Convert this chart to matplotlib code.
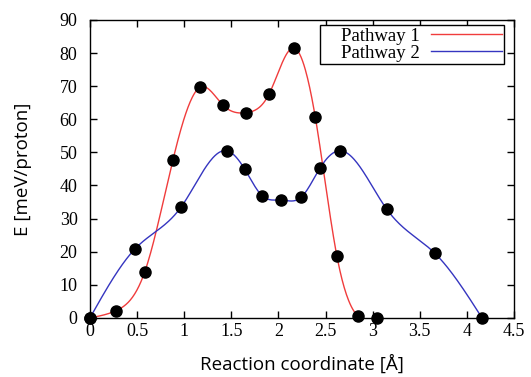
import numpy as np
import matplotlib
matplotlib.use("Agg")
import matplotlib.pyplot as plt

# reaction coordinate [A] and energy [meV/proton]
x1 = [0.0, 0.28, 0.58, 0.88, 1.17, 1.41, 1.66, 1.90, 2.17, 2.39, 2.62, 2.84, 3.05]
e1 = [0.0, 2.2, 13.8, 47.7, 69.7, 64.3, 62.0, 67.6, 81.5, 60.8, 18.7, 0.6, 0.0]

x2 = [0.0, 0.48, 0.97, 1.45, 1.64, 1.83, 2.03, 2.24, 2.44, 2.65, 3.15, 3.66, 4.16]
e2 = [0.0, 20.9, 33.6, 50.5, 45.0, 36.8, 35.6, 36.4, 45.2, 50.5, 32.8, 19.5, 0.0]

labels = ["Pathway 1", "Pathway 2"]
colors = ["#f03c3c", "#3535c0"]


def spline(x, y, n=400):
    # natural cubic spline, like gnuplot's smooth csplines
    x = np.asarray(x, float)
    y = np.asarray(y, float)
    k = len(x)
    h = np.diff(x)
    A = np.zeros((k, k))
    b = np.zeros(k)
    A[0, 0] = A[-1, -1] = 1
    for i in range(1, k - 1):
        A[i, i - 1] = h[i - 1]
        A[i, i] = 2 * (h[i - 1] + h[i])
        A[i, i + 1] = h[i]
        b[i] = 6 * ((y[i + 1] - y[i]) / h[i] - (y[i] - y[i - 1]) / h[i - 1])
    m = np.linalg.solve(A, b)
    xs = np.linspace(x[0], x[-1], n)
    idx = np.clip(np.searchsorted(x, xs) - 1, 0, k - 2)
    t = xs - x[idx]
    hi = h[idx]
    a = (m[idx + 1] - m[idx]) / (6 * hi)
    bb = m[idx] / 2
    c = (y[idx + 1] - y[idx]) / hi - hi * (2 * m[idx] + m[idx + 1]) / 6
    return xs, y[idx] + c * t + bb * t ** 2 + a * t ** 3


fig = plt.figure(figsize=(5.31, 3.77), dpi=100)
ax = fig.add_axes([0.1695, 0.157, 0.7985, 0.79])

for xx, ee, lab, col in zip([x1, x2], [e1, e2], labels, colors):
    xs, ys = spline(xx, ee)
    ax.plot(xs, ys, color=col, lw=1.0, label="    " + lab)
for xx, ee in zip([x1, x2], [e1, e2]):
    ax.plot(xx, ee, "o", color="black", ms=8, clip_on=False, zorder=5)

ax.set_xlim(0, 4.5)
ax.set_ylim(0, 90)
ax.set_xticks(np.arange(0, 4.51, 0.5))
ax.set_xticklabels(["0", "0.5", "1", "1.5", "2", "2.5", "3", "3.5", "4", "4.5"])
ax.set_yticks(np.arange(0, 91, 10))
ax.tick_params(direction="in", top=True, right=True, length=5, width=1, labelsize=13)
ax.tick_params(axis="y", pad=9)
for t in ax.get_xticklabels() + ax.get_yticklabels():
    t.set_family("Liberation Serif")
for s in ax.spines.values():
    s.set_linewidth(1)

ax.set_xlabel("Reaction coordinate [Å]", fontsize=13.5, family="Open Sans", labelpad=11)
ax.set_ylabel("E [meV/proton]", fontsize=13.5, family="Open Sans", labelpad=20)

leg = ax.legend(loc="upper right", bbox_to_anchor=(0.977, 0.982), markerfirst=False,
                fancybox=False, framealpha=1, edgecolor="black",
                prop={"family": "Liberation Serif", "size": 13.5},
                borderaxespad=0, handlelength=3.8, borderpad=0.12, labelspacing=0.0,
                handletextpad=0.6)
leg.get_frame().set_linewidth(1)

plt.savefig("out.png", dpi=100)
